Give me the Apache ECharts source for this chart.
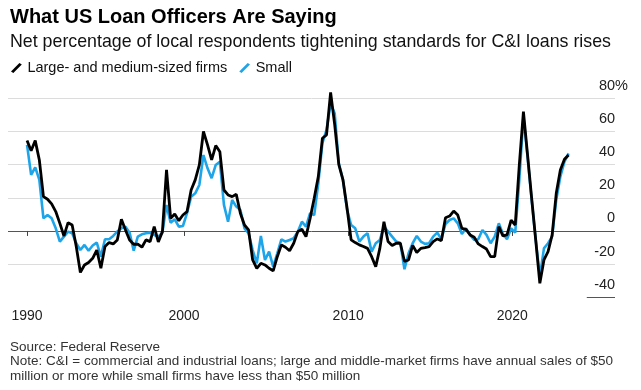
<!DOCTYPE html>
<html><head><meta charset="utf-8">
<script src="https://cdn.jsdelivr.net/npm/echarts@6/dist/echarts.min.js"></script>
<style>html,body{margin:0;padding:0;background:#fff}#c{width:641px;height:390px}</style>
</head><body><div id="c"></div>
<script>
const titleText = 'What US Loan Officers Are Saying';
const subtitleText = 'Net percentage of local respondents tightening standards for C&I loans rises';
const seriesNames = ['Large- and medium-sized firms', 'Small'];
const sourceText = 'Source: Federal Reserve';
const noteLines = ['Note: C&I = commercial and industrial loans; large and middle-market firms have annual sales of $50',
                   'million or more while small firms have less than $50 million'];

// quarterly survey, first observation 1990 Q2
const firstYear = 1990, firstQuarter = 2;

const largeFirms = [
  54.5, 48.4, 54.5, 42.8, 20.7, 19.1, 16.3, 11.7, 4.6, -3,
  5, 3.6, -9.4, -25, -20.5, -19, -16.5, -11.5, -22.5, -9.4,
  -7, -7.8, -5.4, 7, 0.6, -5.4, -8, -8, -9.8, -5.4,
  -6.4, 2.6, -6.6, -0.4, 36.8, 7.6, 10.2, 6.2, 9.6, 11.7,
  24.7, 30.8, 39.8, 60, 51.9, 42.8, 51.5, 47.8, 24.7, 21.7,
  20.7, 22.1, 10.7, 3.6, 0.6, -17.5, -22.5, -19.5, -20.5, -22.5,
  -24.1, -15.5, -8.4, -9.8, -11.9, -7.4, -0.4, 1, -3.4, 7.6,
  19.7, 32.8, 55.9, 57.9, 83.6, 64, 40, 31, 14, -5.4,
  -7, -8.4, -9.4, -10.5, -15.5, -21.5, -10.5, 5.6, -6.4, -8.8,
  -7.4, -7.4, -18.3, -17.5, -8.7, -13, -10.5, -10, -9.4, -6.4,
  -4.8, -5.8, 8, 9, 12, 9.6, 1.6, 1, -2.4, -3.8,
  -7.8, -9.4, -10.9, -15.5, -15.5, 2.6, -3, -2.4, 6.6, 3.6,
  40, 72, 46, 20, -5.6, -31.6, -17.5, -12.5, -2.4, 22.7,
  36.8, 43.2, 45.8
];
const smallFirms = [
  51.9, 33.8, 38.4, 30.8, 7.6, 9.6, 7.6, 1.6, -6.4, -3.4,
  -0.4, -1.4, -7.4, -11.5, -8.4, -11.9, -8.8, -7, -15.5, -5,
  -5, -3, -0.4, 1.6, 2.6, -1, -11.9, -3.4, -2, -1.4,
  -1, -2.4, -3.4, -1, 15.7, 5, 7, 2.6, 3, 10.7,
  20.7, 22.7, 27.7, 45.8, 37.8, 31.8, 39.8, 41.8, 15.7, 5.6,
  18.7, 14.7, 12.7, 1.6, -1.4, -11.5, -19.5, -3, -17.5, -12.5,
  -21.5, -13.5, -5, -6.4, -5.4, -4.4, -0.4, 5.6, 2.6, 10.7,
  9.6, 28.7, 52.9, 60.9, 77, 70.8, 40.8, 30.8, 12.7, 3.6,
  1.6, -6.4, -3.4, -1.4, -12.5, -7.4, -5.4, 2.6, -0.4, -3.4,
  -6.4, -7.4, -23.1, -13.5, -7.4, -3, -6.4, -7.8, -7.4, -3.4,
  -1, -5, 4.2, 6.6, 7.6, 4.6, -1.8, 1.6, -2.4, -5.4,
  -5, 0.6, -2.4, -7.4, -3.4, 4.6, -1.8, -5, 1.6, -1,
  30.8, 69, 44.8, 18.7, -5.4, -27.5, -10.5, -7.4, -3.4, 18.7,
  32.8, 41.8, 46.8
];

const xTickValues = [1990.43, 2000, 2010, 2020];
const xTickLabels = ['1990', '2000', '2010', '2020'];
const yMin = -40, yMax = 80, yStep = 20;

// survey dates (decimal years, mid-quarter survey month)
const surveyDates = largeFirms.map((_, i) => firstYear + (firstQuarter - 1 + i) / 4 + 0.18);
const pairs = arr => arr.map((v, i) => [surveyDates[i], v]);

const FF = "'Liberation Sans', Arial, Helvetica, sans-serif";
const slash = 'path://M0,8.6 L8.6,0 L11,1.6 L2.4,10.2 Z';
const xMin = 1989.27, xMax = 2026.26;

const chart = echarts.init(document.getElementById('c'), null, {renderer: 'canvas'});
chart.setOption({
  animation: false,
  backgroundColor: '#fff',
  textStyle: {fontFamily: FF},
  title: [
    {text: titleText, left: 10, top: 7, padding: 0,
     textStyle: {fontSize: 20, lineHeight: 20, fontWeight: 'bold', color: '#000', fontFamily: FF}},
    {text: subtitleText, left: 10, top: 33, padding: 0,
     textStyle: {fontSize: 17.8, lineHeight: 18, fontWeight: 'normal', color: '#111', fontFamily: FF}},
    {text: [sourceText].concat(noteLines).join('\n'), left: 10, top: 339.5, padding: 0,
     textStyle: {fontSize: 13.5, lineHeight: 14.7, fontWeight: 'normal', color: '#333', fontFamily: FF}}
  ],
  legend: {
    left: 11, top: 60, padding: 0, itemGap: 12, itemWidth: 12, itemHeight: 10,
    data: [
      {name: seriesNames[0], icon: slash, itemStyle: {color: '#000'}},
      {name: seriesNames[1], icon: slash, itemStyle: {color: '#1ea5e9'}}
    ],
    textStyle: {fontSize: 14.5, lineHeight: 16, color: '#111', fontFamily: FF}
  },
  grid: {left: 8, right: 26, top: 98.3, bottom: 92.7, containLabel: false},
  xAxis: {
    type: 'value', min: xMin, max: xMax,
    axisLine: {show: false},
    splitLine: {show: false},
    axisTick: {show: true, customValues: xTickValues, length: 5, lineStyle: {color: '#444', width: 1}},
    axisLabel: {customValues: xTickValues, margin: 12, fontSize: 14, color: '#222', fontFamily: FF,
                formatter: v => xTickLabels[xTickValues.indexOf(v)]}
  },
  yAxis: {
    type: 'value', position: 'right', min: yMin, max: yMax, interval: yStep,
    axisLine: {show: false}, axisTick: {show: false},
    splitLine: {show: true, lineStyle: {width: 1,
      color: ['rgba(0,0,0,0)', '#dcdcdc', '#555', '#dcdcdc', '#dcdcdc', '#dcdcdc', '#dcdcdc']}},
    axisLabel: {inside: true, margin: -13, verticalAlign: 'bottom', padding: [0, 0, 5, 0],
      fontSize: 14.5, color: '#222', fontFamily: FF,
      formatter: v => v === yMax ? v + '{p|%}' : v + '{h|%}',
      rich: {p: {fontSize: 14.5, color: '#222', fontFamily: FF},
             h: {fontSize: 14.5, color: 'rgba(0,0,0,0)', fontFamily: FF}}}
  },
  series: [
    {name: seriesNames[0], type: 'line', data: pairs(largeFirms), showSymbol: false, symbol: 'none', z: 3, clip: false,
     lineStyle: {color: '#000', width: 2.8}, itemStyle: {color: '#000'},
     markLine: {silent: true, symbol: 'none', label: {show: false},
       lineStyle: {color: '#555', width: 1, type: 'solid'},
       data: [[{coord: [2024.54, yMin]}, {coord: [xMax, yMin]}]]}},
    {name: seriesNames[1], type: 'line', data: pairs(smallFirms), showSymbol: false, symbol: 'none', z: 2, clip: false,
     lineStyle: {color: '#1ea5e9', width: 2.6}, itemStyle: {color: '#1ea5e9'}}
  ]
});
</script></body></html>
